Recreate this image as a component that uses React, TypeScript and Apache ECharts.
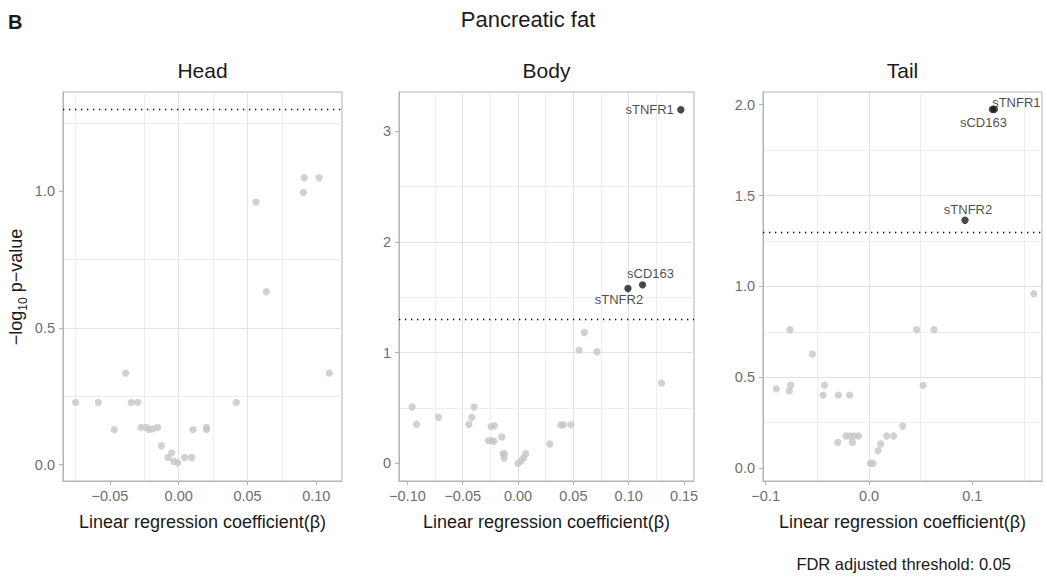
import React, { useEffect, useRef } from "react";
import * as echarts from "echarts";

// ---------- data ----------
const panelTitles = ["Head", "Body", "Tail"];
const mainTitle = "Pancreatic fat";
const panelTag = "B";
const xAxisTitle = "Linear regression coefficient(β)";
const footerText = "FDR adjusted threshold: 0.05";
const fdrAlpha = 0.05;

const headBeta = [-0.0749, -0.0584, -0.0468, -0.0385, -0.0344, -0.0298, -0.0274, -0.0235, -0.0216, -0.0191, -0.0153, -0.0126, -0.0078, -0.0051, -0.0036, -0.0007, 0.0044, 0.0094, 0.0104, 0.0201, 0.0203, 0.0419, 0.0562, 0.0637, 0.0906, 0.0913, 0.102, 0.1095];
const headLogP = [0.228, 0.228, 0.128, 0.335, 0.228, 0.228, 0.136, 0.136, 0.128, 0.131, 0.136, 0.069, 0.026, 0.043, 0.012, 0.007, 0.026, 0.026, 0.128, 0.136, 0.128, 0.228, 0.961, 0.633, 0.996, 1.05, 1.05, 0.335];
const headNames: string[] = [];

const bodyBeta = [-0.0957, -0.0918, -0.0719, -0.0445, -0.0418, -0.0397, -0.0268, -0.0244, -0.0235, -0.0214, -0.0217, -0.0147, -0.0135, -0.0126, -0.0123, 0.0, 0.0027, 0.0051, 0.0069, 0.0286, 0.0385, 0.0409, 0.0478, 0.0551, 0.0599, 0.0713, 0.1297, 0.0993, 0.1125, 0.1471];
const bodyLogP = [0.508, 0.352, 0.415, 0.352, 0.415, 0.508, 0.204, 0.331, 0.204, 0.34, 0.198, 0.237, 0.084, 0.045, 0.087, 0.0, 0.021, 0.048, 0.087, 0.174, 0.346, 0.346, 0.349, 1.022, 1.181, 1.007, 0.724, 1.578, 1.611, 3.192];
const bodyNames = ["", "", "", "", "", "", "", "", "", "", "", "", "", "", "", "", "", "", "", "", "", "", "", "", "", "", "", "sTNFR2", "sCD163", "sTNFR1"];

const tailBeta = [-0.0897, -0.0765, -0.0758, -0.0771, -0.0548, -0.0445, -0.0432, -0.0303, -0.0297, -0.0187, -0.0223, -0.0181, -0.0161, -0.0145, -0.0103, 0.0013, 0.0039, 0.0087, 0.0113, 0.0171, 0.0239, 0.0326, 0.0461, 0.0523, 0.0629, 0.1594, 0.0929, 0.1194, 0.1213];
const tailLogP = [0.436, 0.761, 0.456, 0.425, 0.627, 0.401, 0.456, 0.141, 0.401, 0.401, 0.176, 0.176, 0.141, 0.176, 0.176, 0.026, 0.026, 0.095, 0.132, 0.176, 0.176, 0.231, 0.761, 0.455, 0.761, 0.959, 1.364, 1.974, 1.974];
const tailNames = ["", "", "", "", "", "", "", "", "", "", "", "", "", "", "", "", "", "", "", "", "", "", "", "", "", "", "sTNFR2", "sCD163", "sTNFR1"];

// tick values
const headXTicks = [-0.05, 0, 0.05, 0.1];
const bodyXTicks = [-0.1, -0.05, 0, 0.05, 0.1, 0.15];
const tailXTicks = [-0.1, 0, 0.1];
const headYTicks = [0, 0.5, 1];
const bodyYTicks = [0, 1, 2, 3];
const tailYTicks = [0, 0.5, 1, 1.5, 2];

// axis ranges (data space)
const xRanges = [[-0.0841, 0.1187], [-0.1076, 0.159], [-0.1026, 0.1674]];
const yRanges = [[-0.06, 1.364], [-0.16, 3.352], [-0.0715, 2.07]];
const xTickSteps = [0.05, 0.05, 0.1];
const yTickSteps = [0.5, 1, 0.5];
const xDigits = [2, 2, 1];
const yDigits = [1, 0, 1];

// ---------- layout / style ----------
const FONT = "'Liberation Sans', Arial, Helvetica, sans-serif";
const grids = [
  { left: 63, width: 279 },
  { left: 399, width: 295 },
  { left: 763, width: 279 },
];
const GRID_TOP = 92;
const GRID_H = 389;
const xSplitNumbers = [5, 5, 3];
const ySplitNumbers = [3, 4, 5];

// label placement per panel (relative to the point, px)
const labelPlacement: Record<string, { dx: number; dy: number; align: string }> = {
  "1:sTNFR1": { dx: -7, dy: 0, align: "right" },
  "1:sCD163": { dx: 8, dy: -11, align: "center" },
  "1:sTNFR2": { dx: -9, dy: 11, align: "center" },
  "2:sTNFR1": { dx: 22, dy: -7, align: "center" },
  "2:sCD163": { dx: -9, dy: 13, align: "center" },
  "2:sTNFR2": { dx: 3, dy: -11, align: "center" },
};

const GREY_PT = "#c6c6c6";
const SIG_PT = "#1a1a1a";
const TICK_TXT = "#6e6e6e";
const BORDER = "#b3b3b3";

function fmt(step: number, digits: number) {
  return (v: number) => {
    const k = v / step;
    if (Math.abs(k - Math.round(k)) > 1e-6) return "";
    const s = Math.abs(v).toFixed(digits);
    return (v < -1e-9 ? "\u2212" : "") + s;
  };
}

export default function App() {
  const ref = useRef<HTMLDivElement>(null);

  useEffect(() => {
    if (!ref.current) return;
    const chart = echarts.init(ref.current, null, { renderer: "svg" });
    const threshold = -Math.log10(fdrAlpha);
    const betas = [headBeta, bodyBeta, tailBeta];
    const logps = [headLogP, bodyLogP, tailLogP];
    const names = [headNames, bodyNames, tailNames];
    const xTicks = [headXTicks, bodyXTicks, tailXTicks];
    const yTicks = [headYTicks, bodyYTicks, tailYTicks];

    const gridOpts = grids.map((g) => ({
      left: g.left,
      width: g.width,
      top: GRID_TOP,
      height: GRID_H,
      show: true,
      borderColor: BORDER,
      borderWidth: 1,
      backgroundColor: "transparent",
      containLabel: false,
    }));

    const xAxes = grids.map((_, i) => ({
      type: "value",
      gridIndex: i,
      min: xRanges[i][0],
      max: xRanges[i][1],
      splitNumber: xSplitNumbers[i],
      axisLine: { show: true, onZero: false, lineStyle: { color: BORDER, width: 1 } },
      axisTick: { show: true, length: 4, customValues: xTicks[i], lineStyle: { color: BORDER, width: 1 } },
      axisLabel: {
        color: TICK_TXT,
        fontSize: 14.5,
        fontFamily: FONT,
        margin: 7,
        customValues: xTicks[i],
        formatter: fmt(xTickSteps[i], xDigits[i]),
      },
      splitLine: { show: true, showMinLine: false, showMaxLine: false, lineStyle: { color: "#e1e1e1", width: 1 } },
      minorTick: { show: false, splitNumber: 2 },
      minorSplitLine: { show: true, lineStyle: { color: "#e9e9e9", width: 0.8 } },
      name: xAxisTitle,
      nameLocation: "middle",
      nameGap: 32,
      nameTextStyle: { fontSize: 18, color: "#1a1a1a", fontFamily: FONT },
    }));

    const yAxes = grids.map((_, i) => ({
      type: "value",
      gridIndex: i,
      min: yRanges[i][0],
      max: yRanges[i][1],
      splitNumber: ySplitNumbers[i],
      axisLine: { show: true, onZero: false, lineStyle: { color: BORDER, width: 1 } },
      axisTick: { show: true, length: 4, customValues: yTicks[i], lineStyle: { color: BORDER, width: 1 } },
      axisLabel: {
        color: TICK_TXT,
        fontSize: 14.5,
        fontFamily: FONT,
        margin: 8,
        customValues: yTicks[i],
        formatter: fmt(yTickSteps[i], yDigits[i]),
      },
      splitLine: { show: true, showMinLine: false, showMaxLine: false, lineStyle: { color: "#e1e1e1", width: 1 } },
      minorTick: { show: false, splitNumber: 2 },
      minorSplitLine: { show: true, lineStyle: { color: "#e9e9e9", width: 0.8 } },
    }));

    const series = grids.map((_, i) => {
      const data = betas[i].map((b, j) => {
        const y = logps[i][j];
        const nm = names[i][j] || "";
        const sig = y > threshold;
        const item: any = {
          value: [b, y],
          name: nm,
          itemStyle: { color: sig ? SIG_PT : GREY_PT },
        };
        const pl = labelPlacement[`${i}:${nm}`];
        if (nm && pl) {
          item.label = {
            show: true,
            formatter: nm,
            position: "inside",
            align: pl.align,
            verticalAlign: "middle",
            offset: [pl.dx, pl.dy],
            color: "#1a1a1a",
            fontSize: 13,
            fontFamily: FONT,
          };
        }
        return item;
      });
      data.sort((a: any, b: any) => (a.value[1] > threshold ? 1 : 0) - (b.value[1] > threshold ? 1 : 0));
      return {
        type: "scatter",
        xAxisIndex: i,
        yAxisIndex: i,
        symbolSize: 7.3,
        data,
        emphasis: { disabled: true },
        markLine: {
          silent: true,
          symbol: "none",
          label: { show: false },
          lineStyle: { color: "#000", type: [1.3, 4.7], width: 1.3 },
          data: [{ yAxis: threshold }],
        },
      };
    });

    const graphics: any[] = [
      {
        type: "text",
        x: 8,
        y: 22,
        style: { text: panelTag, fontSize: 20, fontWeight: "bold", fill: "#1a1a1a", font: `bold 20px ${FONT}`, verticalAlign: "middle", align: "left" },
      },
      {
        type: "text",
        x: 528,
        y: 19,
        style: { text: mainTitle, fontSize: 22, fontFamily: FONT, fill: "#1a1a1a", align: "center", verticalAlign: "middle" },
      },
      {
        type: "text",
        x: 1011,
        y: 564,
        style: { text: footerText, fontSize: 16.5, fontFamily: FONT, fill: "#1a1a1a", align: "right", verticalAlign: "middle" },
      },
      {
        type: "text",
        x: 16,
        y: 287,
        rotation: Math.PI / 2,
        style: {
          text: "{a|\u2212log}{b|10}{a| p\u2212value}",
          align: "center",
          verticalAlign: "middle",
          fill: "#1a1a1a",
          rich: {
            a: { fontSize: 18, fontFamily: FONT, fill: "#1a1a1a", verticalAlign: "middle", lineHeight: 26 },
            b: { fontSize: 12, fontFamily: FONT, fill: "#1a1a1a", verticalAlign: "bottom", lineHeight: 12 },
          },
        },
      },
    ];
    panelTitles.forEach((t, i) => {
      graphics.push({
        type: "text",
        x: grids[i].left + grids[i].width / 2,
        y: 70,
        style: { text: t, fontSize: 21, fontFamily: FONT, fill: "#1a1a1a", align: "center", verticalAlign: "middle" },
      });
    });

    chart.setOption({
      animation: false,
      backgroundColor: "#ffffff",
      textStyle: { fontFamily: FONT },
      grid: gridOpts,
      xAxis: xAxes,
      yAxis: yAxes,
      series,
      graphic: graphics,
    });
    return () => chart.dispose();
  }, []);

  return (
    <div
      ref={ref}
      style={{ position: "absolute", left: 0, top: 0, width: 1047, height: 577 }}
    />
  );
}
